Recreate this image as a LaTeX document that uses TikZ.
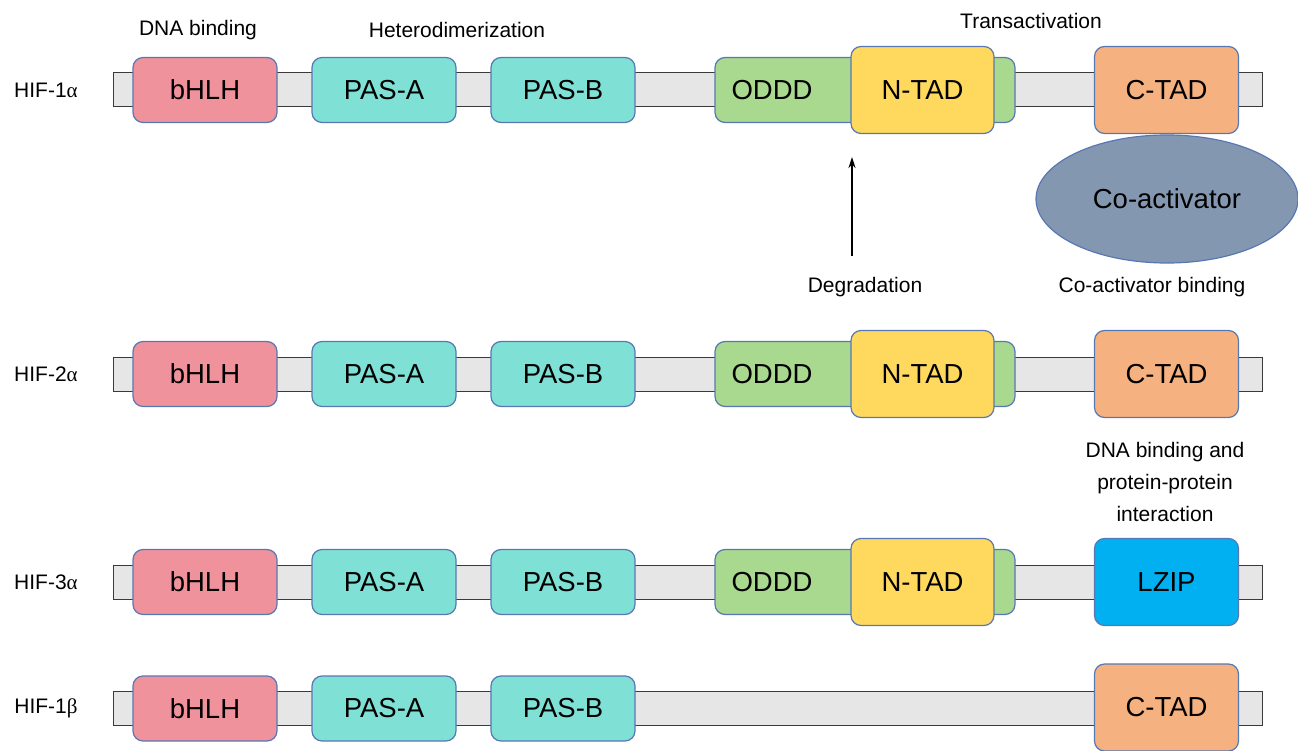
\documentclass[tikz,border=0pt]{standalone}
\usepackage{fontspec}
\setmainfont{Liberation Sans}
\newfontfamily\greekfont{Liberation Serif}
\usetikzlibrary{arrows.meta,shapes.geometric}
\definecolor{edgeblue}{HTML}{5878B4}
\definecolor{barfill}{HTML}{E6E6E6}
\definecolor{bardraw}{HTML}{3A3A3A}
\definecolor{bhlhc}{HTML}{F0929C}
\definecolor{pasc}{HTML}{7FE0D6}
\definecolor{odddc}{HTML}{A9D88F}
\definecolor{ntadc}{HTML}{FFD95E}
\definecolor{ctadc}{HTML}{F5B17F}
\definecolor{lzipc}{HTML}{00B0F0}
\definecolor{coactc}{HTML}{8497B0}
\newcommand{\gk}[1]{{\greekfont #1}}
\begin{document}
\begin{tikzpicture}[x=1pt,y=-1pt,
  dom/.style={draw=edgeblue, line width=1.2pt, rounded corners=10pt, minimum width=144pt, inner sep=0pt, font=\fontsize{27.5}{32}\selectfont},
  smallbox/.style={dom, minimum height=65pt},
  bigbox/.style={dom, minimum height=87pt},
  barbox/.style={draw=bardraw, fill=barfill, line width=1pt, minimum height=34pt, minimum width=1149pt, inner sep=0pt},
  lab/.style={font=\fontsize{21}{32}\selectfont, inner sep=0pt, align=center},
  boxtext/.style={font=\fontsize{27.5}{32}\selectfont, inner sep=0pt}]
\useasboundingbox (0,0) rectangle (1298,751);

% rows common parts
\foreach \r/\y/\lbl in {1/90/{HIF-1\gk{α}}, 2/374/{HIF-2\gk{α}}, 3/582/{HIF-3\gk{α}}, 4/708.5/{HIF-1\gk{β}}} {
  \node[lab] (name\r) at (46,\y) {\lbl};
  \node[barbox] (bar\r) at (687.5,\y) {};
  \node[smallbox, fill=bhlhc] (bhlh\r) at (205,\y) {bHLH};
  \node[smallbox, fill=pasc] (pasa\r) at (384,\y) {PAS-A};
  \node[smallbox, fill=pasc] (pasb\r) at (563,\y) {PAS-B};
}
% ODDD and N-TAD rows 1-3
\foreach \r/\y in {1/90, 2/374, 3/582} {
  \node[smallbox, fill=odddc, minimum width=300pt] (oddd\r) at (865,\y) {};
  \node[boxtext] (odddtxt\r) at (772,\y) {ODDD};
  \node[bigbox, fill=ntadc, minimum width=143pt] (ntad\r) at (922.5,\y) {N-TAD};
}
% C-TAD and LZIP
\node[ellipse, draw=edgeblue, line width=1.2pt, fill=coactc, minimum width=262pt, minimum height=128pt, inner sep=0pt, font=\fontsize{27.5}{32}\selectfont] (coact) at (1167,199) {Co-activator};
\node[bigbox, fill=ctadc] (ctad1) at (1166.5,90) {C-TAD};
\node[bigbox, fill=ctadc] (ctad2) at (1166.5,374) {C-TAD};
\node[bigbox, fill=lzipc] (lzip3) at (1166.5,582) {LZIP};
\node[bigbox, fill=ctadc] (ctad4) at (1166.5,707.5) {C-TAD};

% labels
\node[lab] (dnab) at (198,30) {DNA binding};
\node[lab] (hetero) at (457,30) {Heterodimerization};
\node[lab] (trans) at (1031,21) {Transactivation};
\node[lab] (degr) at (865,287) {Degradation};
\node[lab] (coab) at (1152,287) {Co-activator binding};
\node[lab, font=\fontsize{21}{32}\selectfont] (dnappi) at (1165,482) {DNA binding and\\protein-protein\\interaction};

% arrow
\coordinate (arrtail) at (852,256);
\coordinate (arrtip) at (852,157);
\draw[-{Stealth[length=11pt,width=7pt]}, line width=1.8pt] (arrtail) -- (arrtip);
\end{tikzpicture}
\end{document}
